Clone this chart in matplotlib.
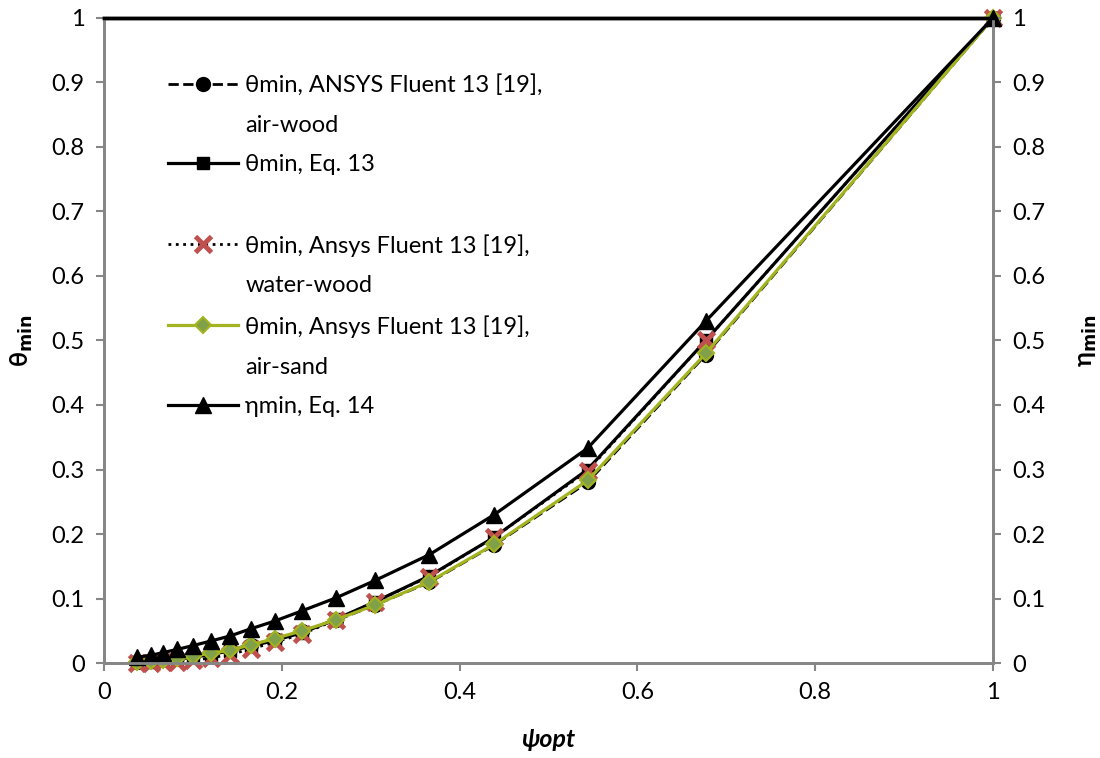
import matplotlib.pyplot as plt
from matplotlib.lines import Line2D
from matplotlib.ticker import FuncFormatter, MultipleLocator

plt.rcParams["font.family"] = ["Lato", "DejaVu Sans"]
plt.rcParams["mathtext.fontset"] = "dejavusans"

# optimal shape factor
psi_opt = [0.037, 0.053, 0.066, 0.082, 0.100, 0.120, 0.142, 0.165, 0.192,
           0.223, 0.261, 0.305, 0.366, 0.439, 0.544, 0.677, 1.0]

theta_air_wood = [0.002, 0.004, 0.006, 0.009, 0.012, 0.016, 0.021, 0.028, 0.037,
                  0.049, 0.066, 0.090, 0.125, 0.183, 0.280, 0.478, 1.0]
theta_eq13 = [0.001, 0.002, 0.004, 0.006, 0.009, 0.013, 0.019, 0.026, 0.035,
              0.047, 0.068, 0.095, 0.135, 0.195, 0.300, 0.500, 1.0]
theta_water_wood = [0.000, 0.000, 0.001, 0.002, 0.004, 0.008, 0.013, 0.022, 0.032,
                    0.045, 0.067, 0.095, 0.134, 0.195, 0.298, 0.500, 1.0]
theta_air_sand = [0.001, 0.003, 0.005, 0.008, 0.011, 0.015, 0.020, 0.028, 0.038,
                  0.050, 0.067, 0.090, 0.126, 0.184, 0.283, 0.480, 1.0]
eta_eq14 = [0.009, 0.012, 0.016, 0.021, 0.027, 0.034, 0.042, 0.053, 0.065,
            0.081, 0.101, 0.128, 0.168, 0.230, 0.333, 0.530, 1.0]

GREY = "#868686"
RED = "#C0504D"
OLIVE = "#A3B420"
OLIVE_FILL = "#80A049"
FS = 17

fig = plt.figure(figsize=(11, 7.58), dpi=100)
ax = fig.add_axes([0.0945, 0.1253, 0.8082, 0.851])
ax2 = ax.twinx()

l_eq13, = ax.plot(psi_opt, theta_eq13, "-", color="black", lw=2.3,
                  marker="s", ms=9, mfc="black", mec="black", zorder=2, clip_on=False)
l_aw, = ax.plot(psi_opt, theta_air_wood, "--", color="black", lw=2.0,
                marker="o", ms=10, mfc="black", mec="black", zorder=3, clip_on=False)
l_ww, = ax.plot(psi_opt, theta_water_wood, ":", color="black", lw=2.0,
                marker="x", ms=11, mew=3.5, mec=RED, zorder=4, clip_on=False)
l_as, = ax.plot(psi_opt, theta_air_sand, "-", color=OLIVE, lw=2.3,
                marker="D", ms=8, mfc=OLIVE_FILL, mec=OLIVE, mew=1.5, zorder=5, clip_on=False)
l_eta, = ax2.plot(psi_opt, eta_eq14, "-", color="black", lw=2.3,
                  marker="^", ms=11, mfc="black", mec="black", clip_on=False)

for a in (ax, ax2):
    a.set_xlim(0, 1)
    a.set_ylim(0, 1)
    a.yaxis.set_major_locator(MultipleLocator(0.1))
    a.yaxis.set_major_formatter(FuncFormatter(lambda v, p: f"{v:g}"))
    for side in ("left", "right", "bottom"):
        a.spines[side].set_color(GREY)
        a.spines[side].set_linewidth(2.0)
    a.spines["top"].set_color("black")
    a.spines["top"].set_linewidth(2.5)
    a.tick_params(labelsize=FS, color=GREY, width=1.5, length=6, pad=8)

ax.xaxis.set_major_locator(MultipleLocator(0.2))
ax.xaxis.set_major_formatter(FuncFormatter(lambda v, p: f"{v:g}"))

ax.set_xlabel("ψopt", fontsize=18, fontweight="bold", style="italic", labelpad=18)
ax.set_ylabel(r"θ$_{\mathbf{min}}$", fontsize=18, fontweight="bold", labelpad=12)
ax2.set_ylabel(r"η$_{\mathbf{min}}$", fontsize=18, fontweight="bold", labelpad=22)

# legend rows; blank handles carry the wrapped second lines
blank = Line2D([], [], linestyle="none")
handles = [l_aw, blank, l_eq13, blank, l_ww, blank, l_as, blank, l_eta]
labels = ["θmin, ANSYS Fluent 13 [19],", "air-wood",
          "θmin, Eq. 13", "",
          "θmin, Ansys Fluent 13 [19],", "water-wood",
          "θmin, Ansys Fluent 13 [19],", "air-sand",
          "ηmin, Eq. 14"]
ax2.legend(handles, labels, loc="upper left", bbox_to_anchor=(0.072, 0.913),
           frameon=False, fontsize=FS, handlelength=2.97, handletextpad=0.3,
           labelspacing=0.795, borderpad=0, borderaxespad=0)

fig.savefig("out.png", dpi=100)
